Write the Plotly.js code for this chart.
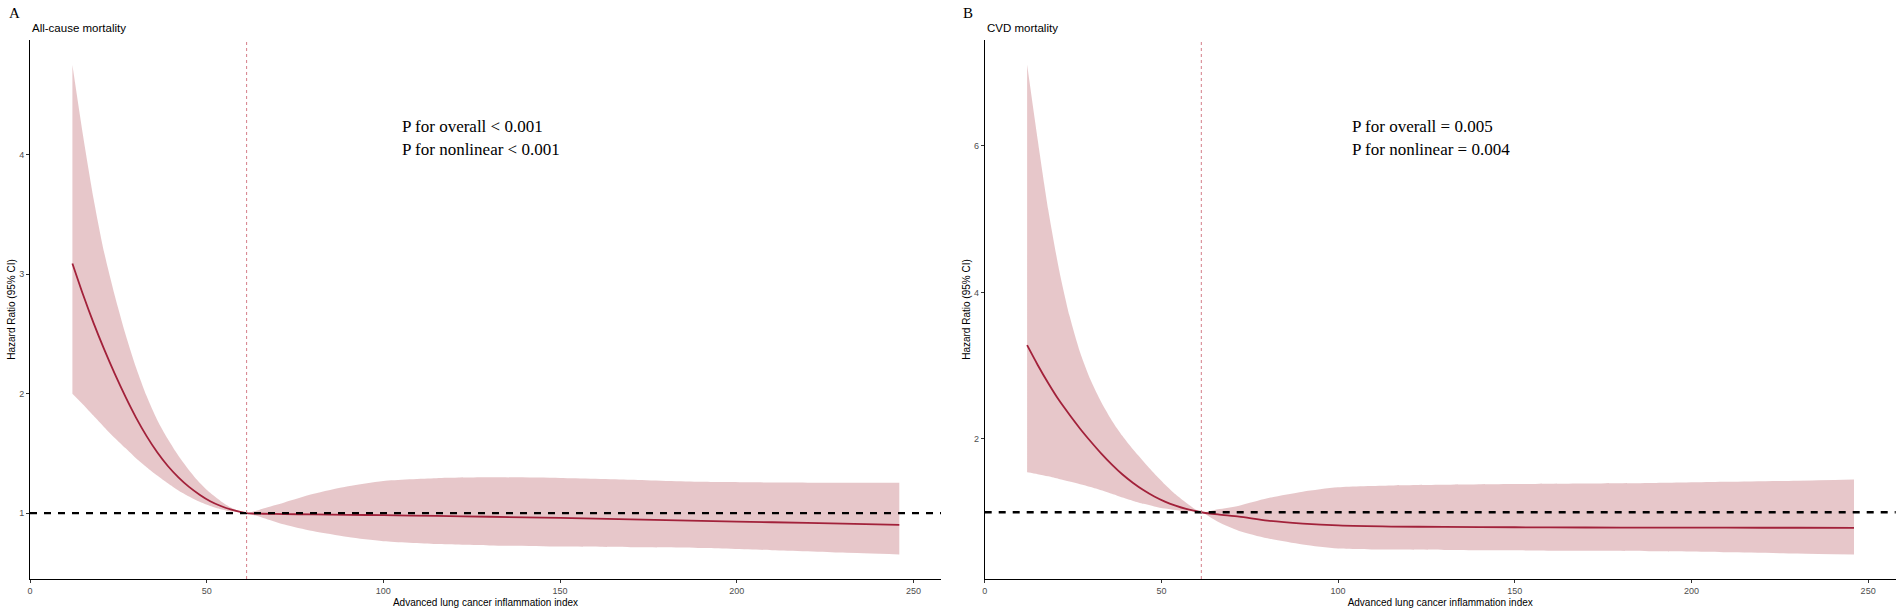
<!DOCTYPE html>
<html>
<head>
<meta charset="utf-8">
<script src="https://cdn.plot.ly/plotly-3.0.1.min.js"></script>
<style>html,body{margin:0;padding:0;background:#fff;}#chart{width:1902px;height:609px;}</style>
</head>
<body>
<div id="chart"></div>
<script>
// ---- data ----
const alciX = [12,15,18,21,24,27,30,33,36,39,42,45,48,51,54,57,61.3,66,72,80,90,100,115,130,150,170,190,210,230,246];

// Panel A: all-cause mortality
const allHR    = [3.09,2.83,2.59,2.37,2.165,1.975,1.80,1.645,1.51,1.395,1.30,1.22,1.155,1.10,1.06,1.03,1.00,0.995,0.992,0.99,0.986,0.983,0.977,0.970,0.960,0.948,0.936,0.924,0.912,0.902];
const allUpper = [4.75,4.16,3.63,3.18,2.82,2.50,2.22,1.98,1.78,1.62,1.48,1.36,1.255,1.17,1.10,1.045,1.00,1.04,1.09,1.16,1.225,1.27,1.293,1.30,1.295,1.28,1.262,1.257,1.255,1.254];
const allLower = [2.00,1.91,1.815,1.72,1.63,1.545,1.46,1.385,1.315,1.25,1.19,1.14,1.095,1.06,1.033,1.013,1.00,0.96,0.905,0.85,0.80,0.765,0.742,0.73,0.72,0.715,0.709,0.69,0.67,0.654];

// Panel B: CVD mortality
const cvdHR    = [3.28,3.01,2.76,2.53,2.33,2.14,1.965,1.80,1.65,1.515,1.40,1.30,1.215,1.145,1.09,1.045,1.00,0.97,0.94,0.885,0.845,0.82,0.805,0.80,0.795,0.792,0.79,0.789,0.788,0.787];
const cvdUpper = [7.11,6.08,5.12,4.32,3.68,3.18,2.80,2.50,2.25,2.04,1.855,1.69,1.53,1.38,1.245,1.13,1.00,1.04,1.09,1.19,1.28,1.34,1.365,1.375,1.385,1.393,1.40,1.415,1.43,1.446];
const cvdLower = [1.545,1.52,1.49,1.455,1.42,1.383,1.345,1.30,1.252,1.20,1.155,1.115,1.08,1.05,1.03,1.012,1.00,0.87,0.745,0.645,0.56,0.505,0.49,0.485,0.48,0.474,0.468,0.455,0.437,0.423];

const xTicks = [0,50,100,150,200,250];
const allYTicks = [1,2,3,4];
const cvdYTicks = [2,4,6];
const refHR = 1;
const knotX = 61.3;

const panelLetters = ["A","B"];
const panelTitles = ["All-cause mortality","CVD mortality"];
const pTexts = [["P for overall < 0.001","P for nonlinear < 0.001"],["P for overall = 0.005","P for nonlinear = 0.004"]];
const pTextX = [104.9, 103.7];
const xTitle = "Advanced lung cancer inflammation index";
const yTitle = "Hazard Ratio (95% CI)";

// ---- styles ----
const W = 1902, H = 609;
const lineColor = "#A2213A";
const ribbonColor = "rgba(160,30,45,0.25)";
const knotColor = "#D57D88";
const sans = "Liberation Sans, Arial, sans-serif";
const serif = "Liberation Serif, Times New Roman, serif";
const smooth = 0.7;

function ribbon(xa, ya, lo, up) {
  return [
    {x: alciX, y: lo, xaxis: xa, yaxis: ya, type: "scatter", mode: "lines",
     line: {width: 0, shape: "spline", smoothing: smooth}, hoverinfo: "skip", showlegend: false},
    {x: alciX, y: up, xaxis: xa, yaxis: ya, type: "scatter", mode: "lines",
     fill: "tonexty", fillcolor: ribbonColor,
     line: {width: 0, shape: "spline", smoothing: smooth}, hoverinfo: "skip", showlegend: false}
  ];
}
function curve(xa, ya, hr) {
  return {x: alciX, y: hr, xaxis: xa, yaxis: ya, type: "scatter", mode: "lines",
    line: {color: lineColor, width: 1.8, shape: "spline", smoothing: smooth}, showlegend: false};
}

const data = [].concat(
  ribbon("x","y",allLower,allUpper), [curve("x","y",allHR)],
  ribbon("x2","y2",cvdLower,cvdUpper), [curve("x2","y2",cvdHR)]
);

function xaxisDef(dom, anchor) {
  return {domain: dom, anchor: anchor, range: [0, 257.8], tickvals: xTicks, ticks: "outside", ticklen: 3,
    tickwidth: 1, tickcolor: "#333", showline: true, linecolor: "#000", linewidth: 1,
    showgrid: false, zeroline: false, tickfont: {family: sans, size: 9, color: "#4D4D4D"},
    title: {text: xTitle, font: {family: sans, size: 10, color: "#000"}, standoff: 4}};
}
function yaxisDef(anchor, rng, tv) {
  return {domain: [1-579/H, 1-40/H], anchor: anchor, range: rng, tickvals: tv, ticks: "outside",
    ticklen: 3, tickwidth: 1, tickcolor: "#333", showline: true, linecolor: "#000", linewidth: 1,
    showgrid: false, zeroline: false, tickfont: {family: sans, size: 9, color: "#4D4D4D"},
    title: {text: yTitle, font: {family: sans, size: 10, color: "#000"}, standoff: 1}};
}

const shapes = [];
[["x","y"],["x2","y2"]].forEach(([xa, ya]) => {
  shapes.push({type: "line", xref: xa + " domain", yref: ya, x0: 0, x1: 1, y0: refHR, y1: refHR,
    line: {color: "#000", width: 2.3, dash: "7px,7px"}, layer: "above"});
  shapes.push({type: "line", xref: xa, yref: ya + " domain", x0: knotX, x1: knotX, y0: 0, y1: 1,
    line: {color: knotColor, width: 1, dash: "3px,3px"}, layer: "above"});
});

const annotations = [];
const letterX = [6.5, 961];
const titleX = [30, 984.7];
panelLetters.forEach((t, i) => {
  annotations.push({text: t, xref: "paper", yref: "paper", x: letterX[i]/W, y: 1-13/H,
    xanchor: "left", yanchor: "middle", showarrow: false, font: {family: serif, size: 15, color: "#000"}});
  annotations.push({text: panelTitles[i], xref: "paper", yref: "paper", x: titleX[i]/W, y: 1-28/H,
    xanchor: "left", yanchor: "middle", showarrow: false, font: {family: sans, size: 11.5, color: "#000"}});
  const xr = i === 0 ? "x" : "x2";
  pTexts[i].forEach((pt, j) => {
    annotations.push({text: pt, xref: xr, yref: "paper", x: pTextX[i], y: 1-(127 + j*22.3)/H,
      xanchor: "left", yanchor: "middle", showarrow: false, borderpad: 0,
      font: {family: serif, size: 17, color: "#000"}});
  });
});

const layout = {
  width: W, height: H, margin: {l: 0, r: 0, t: 0, b: 0},
  paper_bgcolor: "#fff", plot_bgcolor: "#fff", showlegend: false,
  xaxis: xaxisDef([30/W, 941/W], "y"), yaxis: yaxisDef("x", [0.449, 4.96], allYTicks),
  xaxis2: xaxisDef([984.7/W, 1895.7/W], "y2"),
  yaxis2: yaxisDef("x2", [0.089, 7.444], cvdYTicks),
  shapes: shapes, annotations: annotations
};

Plotly.newPlot("chart", data, layout, {displayModeBar: false, staticPlot: true});
</script>
</body>
</html>
